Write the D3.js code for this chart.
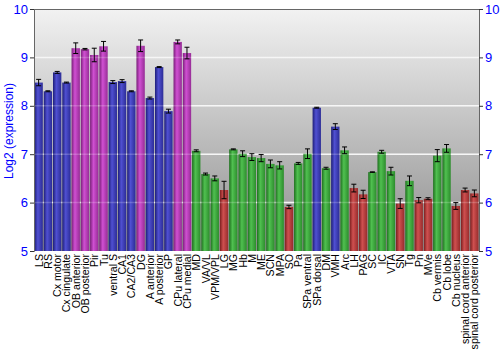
<!DOCTYPE html>
<html><head><meta charset="utf-8">
<script src="https://cdn.jsdelivr.net/npm/d3@7"></script>
<style>body{margin:0;background:#fff}svg{display:block;font-family:"Liberation Sans",Arial,sans-serif}</style>
</head><body><svg id="c" width="500" height="350"></svg>
<script>
const categories = ["LS","RS","Cx motor","Cx cingulate","OB anterior","OB posterior","Pir","Tu","ventral S","CA1","CA2/CA3","DG","A anterior","A posterior","GP","CPu lateral","CPu medial","MD","VA/VL","VPM/VPL","LG","MG","Hb","M","ME","SCN","MPA","SO","Pa","SPa ventral","SPa dorsal","DM","VMH","Arc","LH","PAG","SC","IC","VTA","SN","Tg","Pn","MVe","Cb vermis","Cb lobe","Cb nucleus","spinal cord anterior","spinal cord posterior"];
const values = [8.48,8.30,8.69,8.48,9.19,9.17,9.05,9.23,8.49,8.51,8.30,9.24,8.16,8.80,7.89,9.32,9.09,7.07,6.59,6.50,6.26,7.10,7.01,6.94,6.92,6.80,6.77,5.91,6.81,7.01,7.96,6.71,7.57,7.08,6.30,6.17,6.63,7.05,6.65,5.98,6.45,6.05,6.08,6.97,7.12,5.93,6.26,6.19];
const errors = [0.066,0.01,0.02,0.01,0.11,0.015,0.14,0.10,0.03,0.03,0.01,0.12,0.02,0.01,0.04,0.04,0.12,0.02,0.02,0.05,0.18,0.01,0.06,0.07,0.075,0.08,0.075,0.035,0.02,0.10,0.01,0.02,0.06,0.07,0.08,0.085,0.005,0.03,0.08,0.10,0.10,0.055,0.02,0.125,0.08,0.07,0.04,0.07];
const groups = ["b","b","b","b","m","m","m","m","b","b","b","m","b","b","b","m","m","g","g","g","r","g","g","g","g","g","g","r","g","g","b","g","b","g","r","r","g","g","g","r","g","r","r","g","g","r","r","r"];
const yTicks = [5,6,7,8,9,10];

const svg = d3.select("#c");
const L=34,R=479,T=9,B=251;
const x = d3.scaleBand().domain(categories).range([L,R]).paddingInner(0.1).paddingOuter(0.05);
const y = d3.scaleLinear().domain([5,10]).range([B,T]);
const defs = svg.append("defs");
const bg = defs.append("linearGradient").attr("id","bg").attr("x1",0).attr("y1",0).attr("x2",0).attr("y2",1);
bg.append("stop").attr("offset","0%").attr("stop-color","#f2f2f2");
bg.append("stop").attr("offset","100%").attr("stop-color","#8e8e8e");
const pal = {b:["#1e1e78","#5050d2","#2c2c96"], m:["#7a1e7a","#d050d2","#962c96"], g:["#1e701e","#50c050","#2c8c2c"], r:["#7a1e1e","#d05050","#962c2c"]};
for (const k in pal){
  const g = defs.append("linearGradient").attr("id","g"+k).attr("x1",0).attr("y1",0).attr("x2",1).attr("y2",0);
  g.append("stop").attr("offset","0%").attr("stop-color",pal[k][0]);
  g.append("stop").attr("offset","40%").attr("stop-color",pal[k][1]);
  g.append("stop").attr("offset","100%").attr("stop-color",pal[k][2]);
}
svg.append("rect").attr("x",L).attr("y",T).attr("width",R-L).attr("height",B-T).attr("fill","url(#bg)");
svg.append("g").selectAll("line").data(yTicks.slice(1,-1)).join("line")
  .attr("x1",L).attr("x2",R).attr("y1",d=>y(d)).attr("y2",d=>y(d)).attr("stroke","#f4f4f4").attr("stroke-width",1.5);
svg.append("g").selectAll("rect").data(categories).join("rect")
  .attr("x",d=>x(d)).attr("width",x.bandwidth())
  .attr("y",(d,i)=>y(values[i])).attr("height",(d,i)=>B-y(values[i]))
  .attr("fill",(d,i)=>"url(#g"+groups[i]+")");
svg.append("g").selectAll("line").data(yTicks.slice(1,-1)).join("line")
  .attr("x1",L).attr("x2",R).attr("y1",d=>y(d)).attr("y2",d=>y(d)).attr("stroke","#fff").attr("stroke-opacity",0.2).attr("stroke-width",1.5);
const eg = svg.append("g").attr("stroke","#000").attr("stroke-width",1);
categories.forEach((c,i)=>{
  const cx = x(c)+x.bandwidth()/2;
  const y1=y(values[i]+errors[i]), y2=y(values[i]-errors[i]);
  eg.append("line").attr("x1",cx).attr("x2",cx).attr("y1",y1).attr("y2",y2);
  eg.append("line").attr("x1",cx-2.5).attr("x2",cx+2.5).attr("y1",y1).attr("y2",y1);
  eg.append("line").attr("x1",cx-2.5).attr("x2",cx+2.5).attr("y1",y2).attr("y2",y2);
});
svg.append("line").attr("x1",L).attr("x2",R).attr("y1",T+0.5).attr("y2",T+0.5).attr("stroke","#666");
const fmt = d3.format("d");
const ya = svg.append("g").attr("transform",`translate(${L},0)`).call(d3.axisLeft(y).tickValues(yTicks).tickFormat(fmt).tickSize(4).tickPadding(2));
const yb = svg.append("g").attr("transform",`translate(${R},0)`).call(d3.axisRight(y).tickValues(yTicks).tickFormat(fmt).tickSize(4).tickPadding(2));
[ya,yb].forEach(a=>{a.select(".domain").attr("stroke","#666"); a.selectAll(".tick line").attr("stroke","#333");
  a.selectAll("text").attr("fill","#0000ff").style("font-size","13px").style("font-family","'Liberation Sans',Arial,sans-serif");});
svg.append("text").attr("transform","translate(13,131) rotate(-90)").attr("text-anchor","middle")
  .attr("fill","#0000ff").style("font-size","12px").text("Log2 (expression)");
svg.append("g").selectAll("text").data(categories).join("text")
  .attr("transform",d=>`translate(${x(d)+x.bandwidth()/2+4},${B+3}) rotate(-90)`)
  .attr("text-anchor","end").style("font-size","10.6px").attr("fill","#000").text(d=>d);
</script></body></html>
